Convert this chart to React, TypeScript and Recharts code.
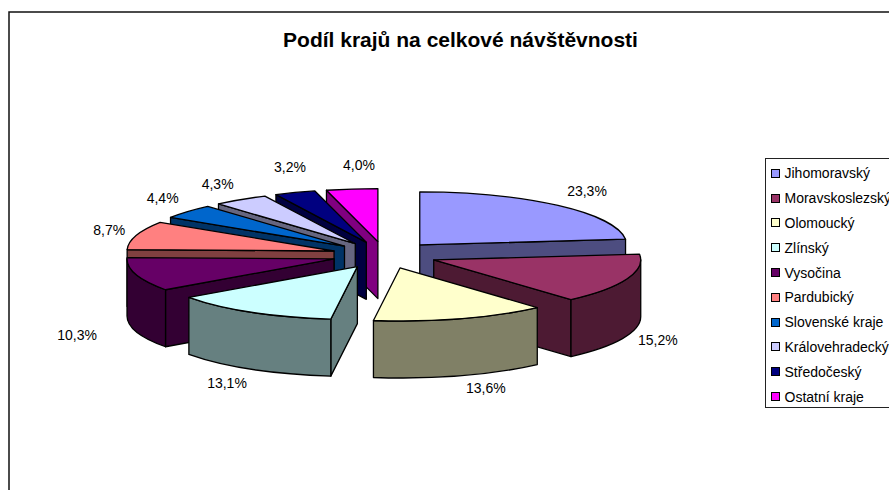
import React from "react";
import { PieChart, Pie, Legend } from "recharts";

const regions = ["Jihomoravský", "Moravskoslezský", "Olomoucký", "Zlínský", "Vysočina", "Pardubický", "Slovenské kraje", "Královehradecký", "Středočeský", "Ostatní kraje"];
const shares = [23.3, 15.2, 13.6, 13.1, 10.3, 8.7, 4.4, 4.3, 3.2, 4.0];
const topColors = ["#9999FF", "#993366", "#FFFFCC", "#CCFFFF", "#660066", "#FF8080", "#0066CC", "#CCCCFF", "#000080", "#FF00FF"];
const sideColors = ["#4D4D80", "#4D1A33", "#808066", "#668080", "#330033", "#804040", "#003366", "#666680", "#000040", "#800080"];
const drawOrder = [0, 9, 8, 7, 6, 5, 4, 1, 2, 3];
const labelNudges = [[29, -14], [31, 4], [25, 12], [-24, 14], [-59, 4], [-27, -5], [-25, -14], [-23, -16], [-5, -26], [7, -24]];

const tableData = regions.map((name, i) => ({ name, value: shares[i], fill: topColors[i] }));

const W = 889, H = 490;
const CX = 384.5, CY = 255, RX = 207;
const TILT = 53 / 207, DEPTH = 57, EXPLODE = 0.255;
const STROKE = 1.3;
const FONT = '"Liberation Sans", Arial, sans-serif';

function geometry(cx: number, cy: number, r: number, angle: number) {
  const t = ((90 - angle) * Math.PI) / 180;
  const ry = r * TILT;
  return { x: cx + r * Math.sin(t), y: cy - ry * Math.cos(t), s: Math.sin(t) };
}

function SliceShape(props: any, own: number) {
  const name = props.name ?? props.payload?.name;
  if (regions.indexOf(name) !== own) return <g />;
  const { cx, cy, outerRadius: r, startAngle, endAngle, midAngle } = props;
  const mid = ((90 - midAngle) * Math.PI) / 180;
  const ax = cx + EXPLODE * r * Math.sin(mid);
  const ay = cy - EXPLODE * r * TILT * Math.cos(mid);
  const ry = r * TILT;
  const ts = 90 - startAngle;
  const te = 90 - endAngle;
  const at = (deg: number) => geometry(ax, ay, r, 90 - deg);
  const start = at(ts), end = at(te);
  const large = te - ts > 180 ? 1 : 0;
  const top = `M${ax},${ay} L${start.x},${start.y} A${r},${ry} 0 ${large} 1 ${end.x},${end.y} Z`;
  const wall = (p: { x: number; y: number }) =>
    `M${ax},${ay} L${p.x},${p.y} L${p.x},${p.y + DEPTH} L${ax},${ay + DEPTH} Z`;
  const a = Math.max(ts, 90), b = Math.min(te, 270);
  let rim = "";
  if (b > a) {
    const pa = at(a), pb = at(b);
    rim = `M${pa.x},${pa.y} A${r},${ry} 0 0 1 ${pb.x},${pb.y} L${pb.x},${pb.y + DEPTH} A${r},${ry} 0 0 0 ${pa.x},${pa.y + DEPTH} Z`;
  }
  const common = { stroke: "#000", strokeWidth: STROKE, strokeLinejoin: "round" as const, fill: sideColors[own] };
  return (
    <g>
      {start.s < 0 && <path d={wall(start)} {...common} />}
      {end.s > 0 && <path d={wall(end)} {...common} />}
      {rim && <path d={rim} {...common} />}
      <path d={top} stroke="#000" strokeWidth={STROKE} strokeLinejoin="round" fill={topColors[own]} />
    </g>
  );
}

function PercentLabel(props: any) {
  const { cx, cy, outerRadius: r, midAngle, index, value } = props;
  const mid = ((90 - midAngle) * Math.PI) / 180;
  const ax = cx + EXPLODE * r * Math.sin(mid);
  const ay = cy - EXPLODE * r * TILT * Math.cos(mid);
  const x = ax + r * Math.sin(mid);
  const below = Math.cos(mid) < 0 ? DEPTH : 0;
  const y = ay - r * TILT * Math.cos(mid) + below;
  const [dx, dy] = labelNudges[index];
  return (
    <text x={x + dx} y={y + dy} textAnchor="middle" dominantBaseline="central" fontFamily={FONT} fontSize={14} fill="#000">
      {value.toFixed(1).replace(".", ",")}%
    </text>
  );
}

function LegendBox() {
  return (
    <div style={{ boxSizing: "border-box", width: 140, height: 250, border: "1px solid #222", background: "#fff", paddingTop: 2, fontFamily: FONT, fontSize: 14, color: "#000" }}>
      {regions.map((name, i) => (
        <div key={name} style={{ height: 24.8, display: "flex", alignItems: "center", whiteSpace: "nowrap" }}>
          <span style={{ boxSizing: "border-box", width: 9, height: 9, marginLeft: 4.5, marginRight: 5, border: "1px solid #000", background: topColors[i], flex: "none" }} />
          <span>{name}</span>
        </div>
      ))}
    </div>
  );
}

export default function App() {
  return (
    <div style={{ position: "absolute", left: 0, top: 0, width: W, height: H, overflow: "hidden", background: "#fff" }}>
      <PieChart width={W} height={H} margin={{ top: 0, right: 0, bottom: 0, left: 0 }}>
        <rect x={9} y={12} width={W + 20} height={H + 20} fill="#fff" stroke="#111" strokeWidth={1.5} />
        <text x={460.5} y={39} textAnchor="middle" dominantBaseline="central" fontFamily={FONT} fontSize={21} fontWeight="bold" fill="#000">
          Podíl krajů na celkové návštěvnosti
        </text>
        {drawOrder.map((own, k) => (
          <Pie
            key={own}
            data={tableData}
            dataKey="value"
            nameKey="name"
            cx={CX}
            cy={CY}
            outerRadius={RX}
            startAngle={90}
            endAngle={-270}
            isAnimationActive={false}
            legendType={k === 0 ? "rect" : "none"}
            labelLine={false}
            label={k === 0 ? PercentLabel : false}
            shape={(p: any) => SliceShape(p, own)}
          />
        ))}
        <Legend content={LegendBox} layout="vertical" wrapperStyle={{ left: 765, top: 158, right: "auto", bottom: "auto", width: 140 }} />
      </PieChart>
    </div>
  );
}
